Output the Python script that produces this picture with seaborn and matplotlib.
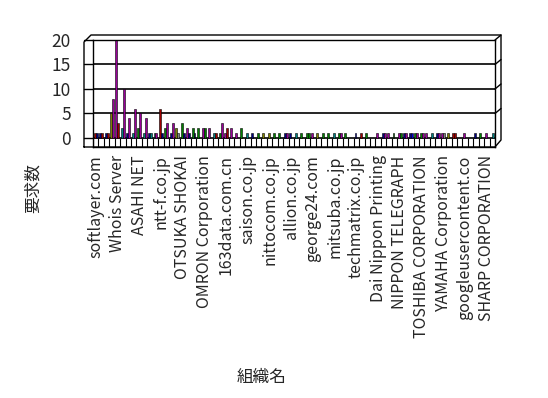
import numpy as np
import pandas as pd
import matplotlib
matplotlib.use("Agg")
import matplotlib.pyplot as plt
from matplotlib.lines import Line2D
from matplotlib.transforms import blended_transform_factory
import seaborn as sns

sns.set_style("white")
plt.rcParams["font.family"] = ["Noto Sans CJK JP", "DejaVu Sans"]

# ------------------------------
# data
# ------------------------------
org_labels = ["softlayer.com", "Whois Server", "ASAHI NET", "ntt-f.co.jp",
              "OTSUKA SHOKAI", "OMRON Corporation", "163data.com.cn",
              "saison.co.jp", "nittocom.co.jp", "allion.co.jp", "george24.com",
              "mitsuba.co.jp", "techmatrix.co.jp", "Dai Nippon Printing",
              "NIPPON TELEGRAPH", "TOSHIBA CORPORATION", "YAMAHA Corporation",
              "googleusercontent.co", "SHARP CORPORATION"]
n_orgs = 74          # only every 4th organisation gets a label
label_step = 4

left_vals = [1, 1, 1, 5, 20, 2, 1, 1, 2, 1, 1, 1, 6, 2, 1, 2, 3, 2, 2, 2,
             2, 2, 1, 1, 1, 2, 1, 2, 1, 1, 1, 1, 1, 1, 1, 1, 1, 1, 1, 1,
             1, 1, 1, 1, 1, 1, 1, 0, 1, 1, 1, 0, 1, 1, 1, 1, 1, 1, 1, 1,
             1, 1, 1, 1, 1, 1, 1, 0, 1, 0, 1, 1, 1, 0]
left_cols = ["red", "navy", "navy", "olive", "purple", "teal", "navy", "teal",
             "green", "teal", "navy", "teal", "red", "green", "navy", "olive",
             "green", "purple", "green", "green", "purple", "purple", "teal",
             "green", "purple", "purple", "purple", "green", "teal", "navy",
             "green", "olive", "olive", "green", "green", "navy", "navy", "teal",
             "green", "green", "purple", "olive", "green", "green", "teal",
             "green", "green", "navy", "blue", "red", "green", "navy", "purple",
             "navy", "purple", "green", "purple", "navy", "navy", "green",
             "green", "purple", "teal", "navy", "purple", "olive", "red", "navy",
             "purple", "navy", "navy", "green", "purple", "navy"]
right_vals = [1, 1, 1, 8, 3, 10, 4, 6, 5, 4, 1, 1, 1, 3, 3, 1, 1, 1, 1, 0,
              2, 0, 1, 3, 2, 0, 0, 0, 0, 0, 0, 0, 0, 0, 0, 1, 0, 0, 0, 1,
              0, 0, 0, 0, 0, 1, 0, 0, 0, 0, 0, 0, 0, 1, 0, 0, 1, 1, 1, 1,
              1, 0, 0, 1, 1, 0, 1, 0, 0, 0, 0, 0, 0, 1]
right_cols = ["navy", "red", "red", "purple", "red", "purple", "purple", "purple",
              "purple", "purple", "teal", "purple", "navy", "purple", "purple",
              "gray", "navy", "navy", "navy", "navy", "green", "navy", "red",
              "purple", "red", "navy", "navy", "navy", "navy", "navy", "navy",
              "navy", "navy", "navy", "navy", "purple", "navy", "navy", "navy",
              "green", "navy", "navy", "navy", "navy", "navy", "purple", "navy",
              "navy", "navy", "navy", "navy", "navy", "navy", "purple", "navy",
              "navy", "green", "purple", "blue", "purple", "purple", "navy",
              "navy", "purple", "gray", "navy", "red", "navy", "navy", "navy",
              "navy", "navy", "navy", "teal"]

palette = {"navy": "#000080", "red": "#a00000", "purple": "#990099",
           "olive": "#808000", "teal": "#008080", "green": "#008000",
           "blue": "#0000cc", "gray": "#808080"}

df = pd.concat([
    pd.DataFrame({"org": range(n_orgs), "slot": "L", "count": left_vals, "col": left_cols}),
    pd.DataFrame({"org": range(n_orgs), "slot": "R", "count": right_vals, "col": right_cols}),
])

# ------------------------------
# figure
# ------------------------------
W, H = 548, 398
fig = plt.figure(figsize=(W / 100, H / 100), dpi=100)
fig.patch.set_facecolor("white")

def fx(px):
    return px / W

def fy(py):
    return 1 - py / H

ax = fig.add_axes([fx(93), fy(147), fx(495) - fx(93), fy(40) - fy(147)])

sns.barplot(data=df, x="org", y="count", hue="slot", hue_order=["L", "R"],
            order=list(range(n_orgs)), dodge=True, width=0.72, legend=False,
            errorbar=None, ax=ax, edgecolor="black", linewidth=0.4)

# colour each column like the original (colours vary from point to point)
for cont, slot in zip(ax.containers, ["L", "R"]):
    sub = df[df["slot"] == slot]
    for bar, c, v in zip(cont, sub["col"], sub["count"]):
        bar.set_facecolor(palette[c])
        if v == 0:
            bar.set_linewidth(0)

ax.set_xlim(-0.5, n_orgs - 0.5)
ax.set_ylim(-1.84, 20)

# back-wall gridlines and floor
for v in [0, 5, 10, 15]:
    ax.axhline(v, color="black", lw=1.2, zorder=0)
ax.vlines(np.arange(-0.5, n_orgs), -1.84, 0, color="black", lw=0.8, zorder=0)

for s in ax.spines.values():
    s.set_color("black")
    s.set_linewidth(1.0)

ax.set_yticks([0, 5, 10, 15, 20])
ax.set_yticklabels(["0", "5", "10", "15", "20"], fontsize=12.5)
ax.tick_params(axis="y", length=0, pad=16)

ax.set_xticks(range(0, n_orgs, label_step))
ax.set_xticklabels(org_labels, rotation=90, fontsize=11.5)
ax.tick_params(axis="x", length=0, pad=6)
ax.set_xlabel("")
ax.set_ylabel("")

# left wall ticks and right-side depth diagonals
tr = blended_transform_factory(ax.transAxes, ax.transData)
dx_left = 9 / 402
dx_right = 6 / 402
for v in [0, 5, 10, 15, 20]:
    ax.add_line(Line2D([-dx_left, 0], [v, v], transform=tr, color="black",
                       lw=1.0, clip_on=False))
for v in [5, 10, 15, 20]:
    ax.add_line(Line2D([1, 1 + dx_right], [v, v + 5 / 4.9], transform=tr,
                       color="black", lw=1.0, clip_on=False))

# outer frame of the box
frame_px = [(84, 147), (84, 42), (91, 35), (501, 35), (501, 140), (495, 147), (84, 147)]
fig.add_artist(Line2D([fx(p[0]) for p in frame_px], [fy(p[1]) for p in frame_px],
                      color="black", lw=1.0))

fig.text(fx(33), fy(188), "要求数", rotation=90, ha="center", va="center", fontsize=12)
fig.text(fx(262), fy(377), "組織名", ha="center", va="center", fontsize=12)

fig.savefig("out.png", dpi=100, facecolor="white")
